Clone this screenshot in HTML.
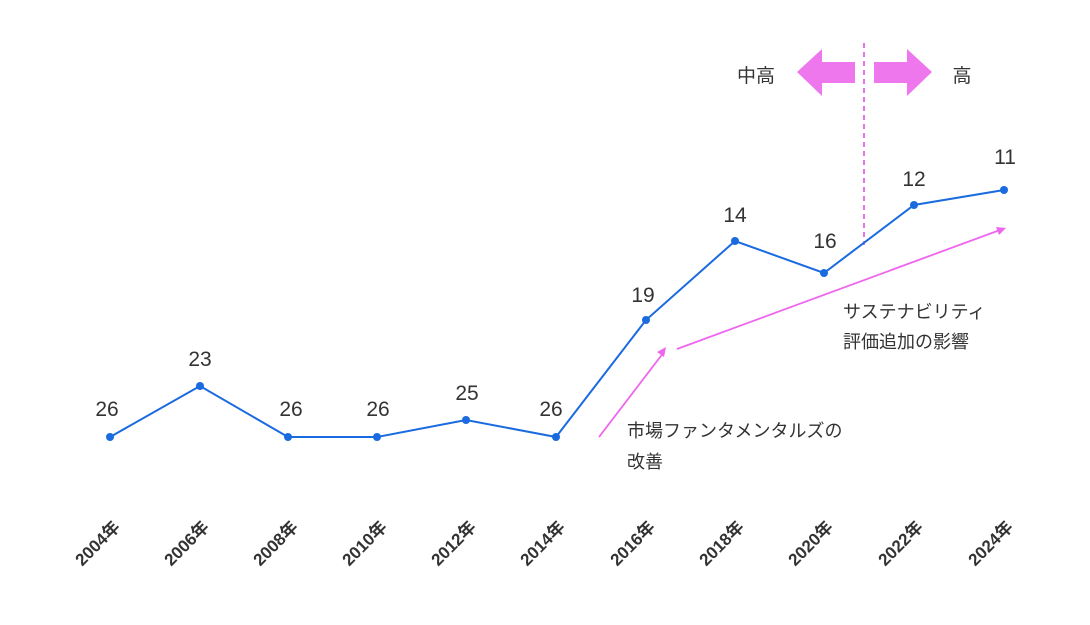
<!DOCTYPE html>
<html><head><meta charset="utf-8"><style>
body{margin:0;background:#fff;}
text{font-family:"Liberation Sans","Noto Sans CJK JP",sans-serif;fill:#333;}
</style></head><body>
<svg width="1090" height="620" xmlns="http://www.w3.org/2000/svg">
<line x1="864" y1="43" x2="864" y2="245" stroke="#ea72ea" stroke-width="2" stroke-dasharray="5,4"/>
<polygon points="797,72 822,49 822,62 855,62 855,83 822,83 822,96" fill="#ee77ee"/>
<polygon points="932,72 907,49 907,62 874,62 874,83 907,83 907,96" fill="#ee77ee"/>
<text x="756" y="82" font-size="19" text-anchor="middle">中高</text>
<text x="962" y="82" font-size="19" text-anchor="middle">高</text>
<polyline points="110,437 200,386 288,437 377,437 466,420 556,437 646,320 735,241 824,273 914,205 1004,190" fill="none" stroke="#1a6ae0" stroke-width="2"/>
<g fill="#1a6ae0">
<circle cx="110" cy="437" r="4"/><circle cx="200" cy="386" r="4"/><circle cx="288" cy="437" r="4"/><circle cx="377" cy="437" r="4"/><circle cx="466" cy="420" r="4"/><circle cx="556" cy="437" r="4"/><circle cx="646" cy="320" r="4"/><circle cx="735" cy="241" r="4"/><circle cx="824" cy="273" r="4"/><circle cx="914" cy="205" r="4"/><circle cx="1004" cy="190" r="4"/>
</g>
<g font-size="21" text-anchor="middle">
<text x="107" y="416">26</text><text x="200" y="366">23</text><text x="291" y="416">26</text><text x="378" y="416">26</text><text x="467" y="400">25</text><text x="551" y="416">26</text><text x="643" y="302">19</text><text x="735" y="222">14</text><text x="825" y="248">16</text><text x="914" y="186">12</text><text x="1005" y="164">11</text>
</g>
<g stroke="#ee66ee" stroke-width="1.8" fill="#ee66ee">
<line x1="599" y1="437" x2="664" y2="352"/>
<polygon points="666,347 657,352 664,357" stroke="none"/>
<line x1="677" y1="349" x2="1000" y2="230"/>
<polygon points="1006,228 996,227 999,235" stroke="none"/>
</g>
<g font-size="18">
<text x="627" y="437">市場ファンタメンタルズの</text>
<text x="627" y="468">改善</text>
<text x="843" y="318">サステナビリティ</text>
<text x="843" y="348">評価追加の影響</text>
</g>
<g font-size="17" font-weight="bold" fill="#444" text-anchor="end">
<text transform="translate(121,528) rotate(-45)">2004年</text>
<text transform="translate(210,528) rotate(-45)">2006年</text>
<text transform="translate(299,528) rotate(-45)">2008年</text>
<text transform="translate(388,528) rotate(-45)">2010年</text>
<text transform="translate(477,528) rotate(-45)">2012年</text>
<text transform="translate(566,528) rotate(-45)">2014年</text>
<text transform="translate(656,528) rotate(-45)">2016年</text>
<text transform="translate(745,528) rotate(-45)">2018年</text>
<text transform="translate(834,528) rotate(-45)">2020年</text>
<text transform="translate(924,528) rotate(-45)">2022年</text>
<text transform="translate(1014,528) rotate(-45)">2024年</text>
</g>
</svg>
</body></html>
